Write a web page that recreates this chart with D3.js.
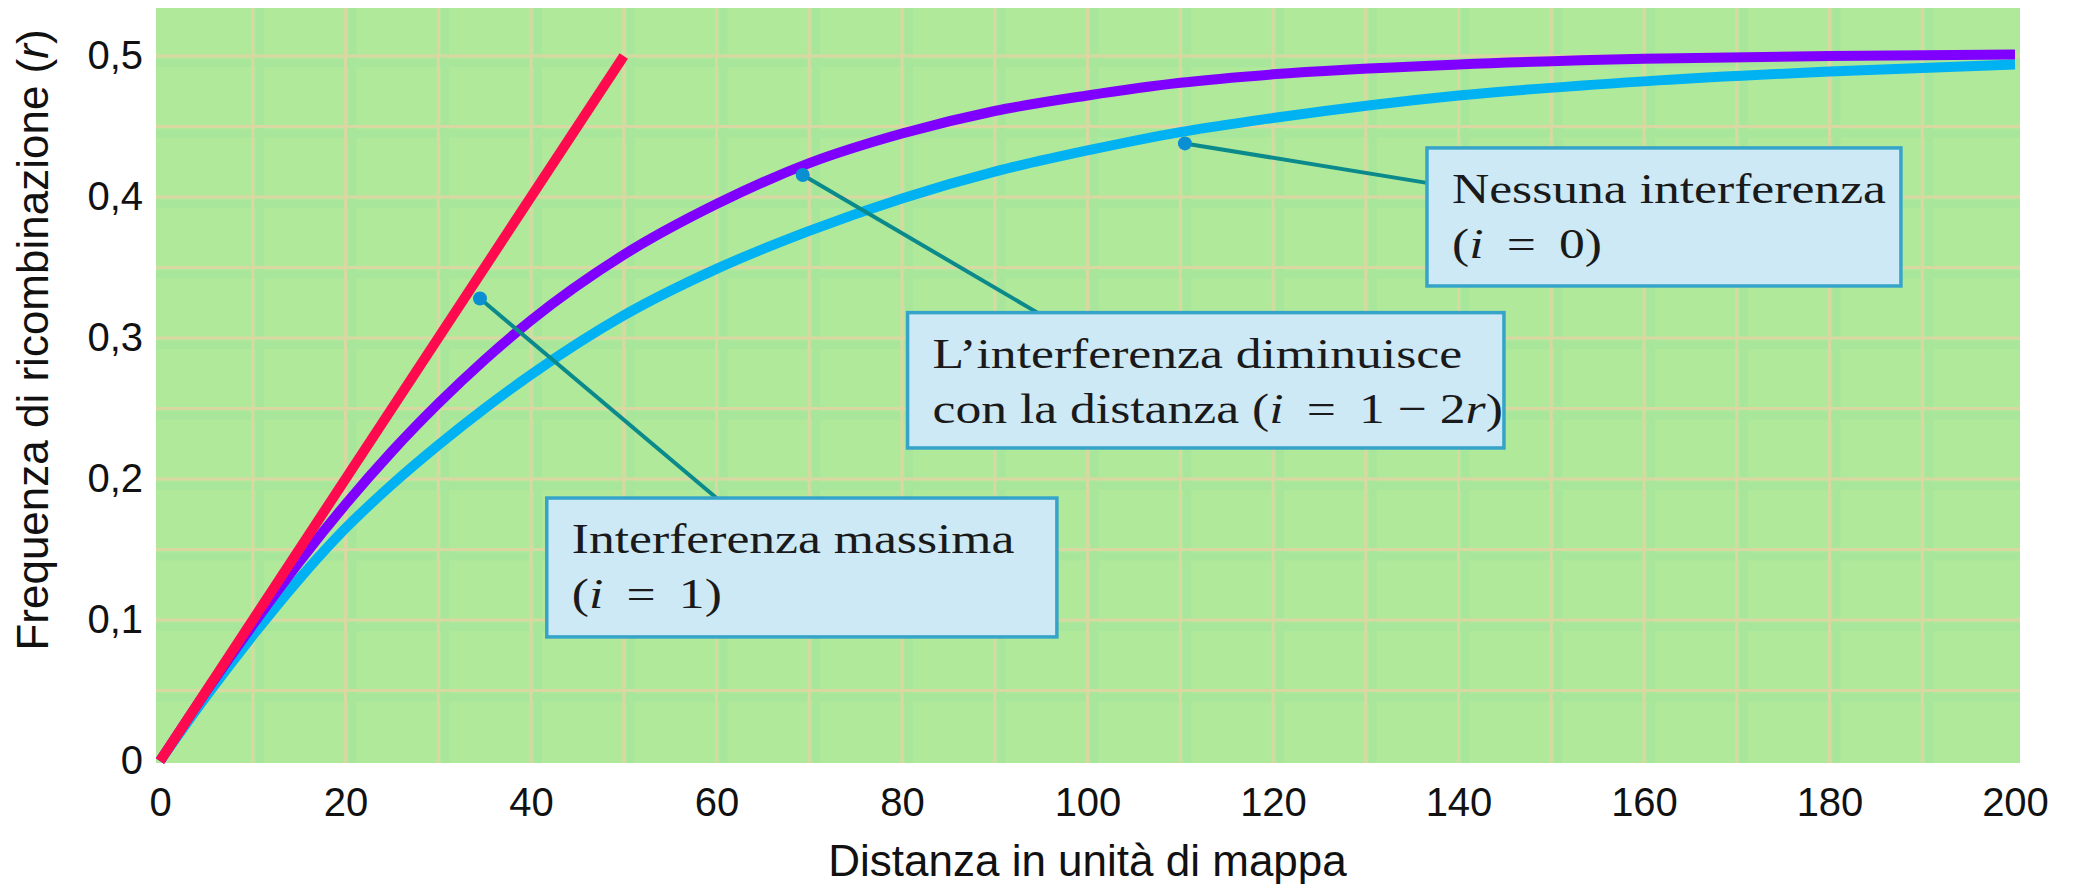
<!DOCTYPE html>
<html>
<head>
<meta charset="utf-8">
<script src="https://cdn.jsdelivr.net/npm/d3@7"></script>
<style>
  body { margin: 0; background: #fff; }
  svg { display: block; }
</style>
</head>
<body>
<div id="chart"></div>
<script>
const distances = [0, 5, 10, 15, 20, 25, 30, 35, 40, 50, 60, 70, 80, 90, 100, 110, 120, 140, 160, 180, 200]
// i = 1 - 2r (purple)
const rDecreasing = [0, 0.0495, 0.0965, 0.141, 0.182, 0.2195, 0.2535, 0.2845, 0.3125, 0.359, 0.395, 0.424, 0.445, 0.461, 0.472, 0.481, 0.487, 0.494, 0.498, 0.5, 0.501]
// i = 0 (light blue)
const rNone = [0, 0.046, 0.089, 0.129, 0.165, 0.196, 0.224, 0.25, 0.274, 0.316, 0.349, 0.376, 0.399, 0.418, 0.433, 0.446, 0.456, 0.472, 0.482, 0.489, 0.494]
// i = 1 (red straight line)
const maxDist = [0, 50]
const rMax = [0, 0.5]

const xTicks = [0, 20, 40, 60, 80, 100, 120, 140, 160, 180, 200]
const yTicks = [0, 0.1, 0.2, 0.3, 0.4, 0.5]

const width = 2074
const height = 884
const plot = { left: 156, right: 2020, top: 8, bottom: 763 }

const svg = d3.select("#chart")
    .append("svg")
    .attr("width", width)
    .attr("height", height)

const x = d3.scaleLinear()
    .domain([0, 200])
    .range([160, 2015])

const y = d3.scaleLinear()
    .domain([0, 0.5])
    .range([761, 56])

// green background
svg.append("rect")
    .attr("x", plot.left)
    .attr("y", plot.top)
    .attr("width", plot.right - plot.left)
    .attr("height", plot.bottom - plot.top)
    .attr("fill", "#b1e99b")

// grid, every 10 units and every 0.05
const vGrid = d3.range(10, 200, 10)
const hGrid = d3.range(0.05, 0.501, 0.05)

const grid = svg.append("g")

grid.selectAll(".vband")
    .data(vGrid)
    .join("line")
    .attr("x1", d => x(d) + 7)
    .attr("x2", d => x(d) + 7)
    .attr("y1", plot.top)
    .attr("y2", plot.bottom)
    .attr("stroke", "#a8e69b")
    .attr("stroke-width", 8)

grid.selectAll(".hband")
    .data(hGrid)
    .join("line")
    .attr("x1", plot.left)
    .attr("x2", plot.right)
    .attr("y1", d => y(d) + 7)
    .attr("y2", d => y(d) + 7)
    .attr("stroke", "#a8e69b")
    .attr("stroke-width", 8)

grid.selectAll(".vline")
    .data(vGrid)
    .join("line")
    .attr("x1", d => x(d))
    .attr("x2", d => x(d))
    .attr("y1", plot.top)
    .attr("y2", plot.bottom)
    .attr("stroke", "#d9d8a2")
    .attr("stroke-width", 3)

grid.selectAll(".hline")
    .data(hGrid)
    .join("line")
    .attr("x1", plot.left)
    .attr("x2", plot.right)
    .attr("y1", d => y(d))
    .attr("y2", d => y(d))
    .attr("stroke", "#d9d8a2")
    .attr("stroke-width", 3)

// curves
const line = d3.line()
    .x(d => x(d[0]))
    .y(d => y(d[1]))
    .curve(d3.curveMonotoneX)

const series = [
    { values: rNone, dist: distances, color: "#00b2f2" },
    { values: rDecreasing, dist: distances, color: "#8000ff" },
    { values: rMax, dist: maxDist, color: "#ff0a4e" }
]

svg.append("g")
    .selectAll("path")
    .data(series)
    .join("path")
    .attr("d", s => line(s.dist.map((d, i) => [d, s.values[i]])))
    .attr("fill", "none")
    .attr("stroke", s => s.color)
    .attr("stroke-width", 10)

// annotations (dot on curve, leader end, box in data units)
const sp = " \u2009"
const notes = [
    {
        dot: [34.5, 0.328], end: [60, 0.1865], box: [41.7, 96.7, 0.1865, 0.088],
        lines: [[["Interferenza massima"]], [["("], ["i", true], [sp + "=" + sp + "1)"]]]
    },
    {
        dot: [69.3, 0.4156], end: [94.6, 0.318], box: [80.6, 144.9, 0.318, 0.222],
        lines: [[["L\u2019interferenza diminuisce"]], [["con la distanza ("], ["i", true], [sp + "=" + sp + "1 \u2212 2"], ["r", true], [")"]]]
    },
    {
        dot: [110.5, 0.438], end: [136.6, 0.41], box: [136.6, 187.7, 0.4348, 0.3369],
        lines: [[["Nessuna interferenza"]], [["("], ["i", true], [sp + "=" + sp + "0)"]]]
    }
]

const ann = svg.append("g")

ann.selectAll(".leader")
    .data(notes)
    .join("line")
    .attr("x1", d => x(d.dot[0]))
    .attr("y1", d => y(d.dot[1]))
    .attr("x2", d => x(d.end[0]))
    .attr("y2", d => y(d.end[1]))
    .attr("stroke", "#0b8a8c")
    .attr("stroke-width", 4)

ann.selectAll(".dot")
    .data(notes)
    .join("circle")
    .attr("cx", d => x(d.dot[0]))
    .attr("cy", d => y(d.dot[1]))
    .attr("r", 7)
    .attr("fill", "#0a8fd2")

ann.selectAll(".box")
    .data(notes)
    .join("rect")
    .attr("x", d => x(d.box[0]))
    .attr("y", d => y(d.box[2]))
    .attr("width", d => x(d.box[1]) - x(d.box[0]))
    .attr("height", d => y(d.box[3]) - y(d.box[2]))
    .attr("fill", "#cde9f6")
    .attr("stroke", "#36a4c8")
    .attr("stroke-width", 3.5)

notes.forEach(n => {
    n.lines.forEach((segs, li) => {
        const t = ann.append("text")
            .attr("transform", `translate(${x(n.box[0]) + 25}, ${y(n.box[2]) + 55 + li * 55}) scale(1.2, 1)`)
            .style("font-family", "'Liberation Serif', 'Times New Roman', serif")
            .style("font-size", "43px")
            .style("white-space", "pre")
            .attr("fill", "#1a1a1a")
        segs.forEach(s => {
            t.append("tspan")
                .text(s[0])
                .style("font-style", s[1] ? "italic" : "normal")
        })
    })
})

// axes
const xAxis = svg.append("g")
    .attr("transform", `translate(0, ${plot.bottom})`)
    .call(d3.axisBottom(x).tickValues(xTicks).tickSize(0).tickPadding(25))

const yAxis = svg.append("g")
    .attr("transform", `translate(${plot.left}, 0)`)
    .call(d3.axisLeft(y).tickValues(yTicks).tickSize(0).tickPadding(13)
        .tickFormat(d => d === 0 ? "0" : String(d).replace(".", ",")))

xAxis.select(".domain").remove()
yAxis.select(".domain").remove()

svg.selectAll(".tick text")
    .style("font-family", "'Liberation Sans', Arial, sans-serif")
    .style("font-size", "40px")
    .attr("fill", "#111")

svg.append("text")
    .attr("x", (x(0) + x(200)) / 2)
    .attr("y", 876)
    .attr("text-anchor", "middle")
    .style("font-family", "'Liberation Sans', Arial, sans-serif")
    .style("font-size", "44px")
    .attr("fill", "#111")
    .text("Distanza in unità di mappa")

const yTitle = svg.append("text")
    .attr("transform", "translate(48, 340) rotate(-90)")
    .attr("text-anchor", "middle")
    .style("font-family", "'Liberation Sans', Arial, sans-serif")
    .style("font-size", "44px")
    .attr("fill", "#111")

yTitle.append("tspan").text("Frequenza di ricombinazione (")
yTitle.append("tspan").text("r").style("font-style", "italic")
yTitle.append("tspan").text(")")
</script>
</body>
</html>
